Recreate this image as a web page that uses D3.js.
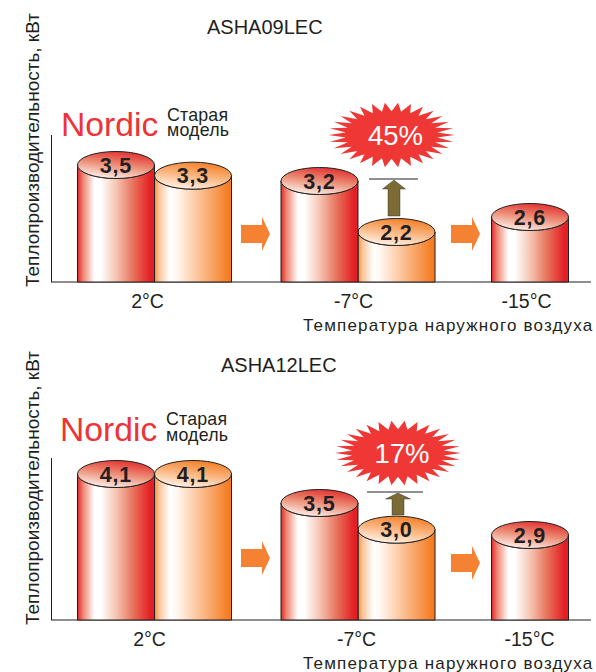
<!DOCTYPE html>
<html lang="ru">
<head>
<meta charset="UTF-8">
<title>ASHA Nordic</title>
<script src="https://d3js.org/d3.v7.min.js"></script>
<style>
    html, body { margin: 0; padding: 0; background: #fff; }
    svg { display: block; font-family: "Liberation Sans", Arial, sans-serif; }
</style>
</head>
<body>
<svg id="chart" width="596" height="672"></svg>
<script>
// data
const temperatures = ["2°C", "-7°C", "-15°C"];
const models = ["ASHA09LEC", "ASHA12LEC"];
const nordicValues = [[3.5, 3.2, 2.6], [4.1, 3.5, 2.9]];
const oldValues = [[3.3, 2.2, null], [4.1, 3.0, null]];
const gains = ["45%", "17%"];
const yTitle = "Теплопроизводительность, кВт";
const xTitle = "Температура наружного воздуха";

const svg = d3.select("#chart");
const defs = svg.append("defs");
const INK = "#231f20";
const BAR_W = 77, RY = 13.5;

// the original's bars are not quite proportional, so the scale is piecewise
const barHeight = d3.scaleLinear()
    .domain([0, 2.2, 2.6, 2.9, 3.5, 4.1])
    .range([0, 50, 65, 85, 117, 146]);
// group centres are unevenly spaced
const groupX = d3.scaleOrdinal().domain(temperatures).range([154.5, 358, 530]);

function addGradients(id, sideStops, topStops) {
    const side = defs.append("linearGradient").attr("id", id + "Side");
    sideStops.forEach(s => side.append("stop").attr("offset", s[0]).attr("stop-color", s[1]));
    const top = defs.append("linearGradient").attr("id", id + "Top")
        .attr("x1", 0.72).attr("y1", 0).attr("x2", 0.35).attr("y2", 1);
    topStops.forEach(s => top.append("stop").attr("offset", s[0]).attr("stop-color", s[1]));
}
addGradients("red",
    [[0, "#e0262a"], [0.07, "#ee8470"], [0.22, "#ffffff"], [0.3, "#ffffff"], [0.5, "#f5c6b4"], [0.72, "#e8735c"], [0.95, "#e31e24"], [1, "#e31e24"]],
    [[0, "#e22a2a"], [0.5, "#ec8d76"], [1, "#fdf0ea"]]);
addGradients("orange",
    [[0, "#f68b3c"], [0.06, "#fbc49a"], [0.2, "#ffffff"], [0.3, "#fff6ee"], [0.55, "#fcc79e"], [0.8, "#f89a54"], [0.97, "#f47b20"], [1, "#f47b20"]],
    [[0, "#f47b20"], [0.5, "#fab57f"], [1, "#fff3e8"]]);

function cylinder(g, cx, base, value, kind) {
    const h = barHeight(value), x0 = cx - BAR_W / 2, x1 = cx + BAR_W / 2, topY = base - h;
    g.append("path")
        .attr("d", `M${x0},${topY}V${base}H${x1}V${topY}A${BAR_W / 2},${RY} 0 0 1 ${x0},${topY}Z`)
        .attr("fill", `url(#${kind}Side)`)
        .attr("stroke", INK).attr("stroke-width", 1);
    g.append("ellipse")
        .attr("cx", cx).attr("cy", topY).attr("rx", BAR_W / 2).attr("ry", RY)
        .attr("fill", `url(#${kind}Top)`)
        .attr("stroke", INK).attr("stroke-width", 1);
    g.append("text")
        .attr("x", cx).attr("y", topY + 7.5)
        .attr("text-anchor", "middle")
        .attr("font-size", 21.5).attr("font-weight", "bold")
        .attr("letter-spacing", 0.8)
        .attr("fill", INK)
        .text(value.toFixed(1).replace(".", ","));
}

function starburst(g, cx, cy) {
    const n = 30, pts = [];
    for (let i = 0; i < n * 2; i++) {
        const a = i * Math.PI / n;
        const k = i % 2 ? 0.73 : 1;
        pts.push([cx + 63 * k * Math.cos(a), cy + 32.5 * k * Math.sin(a)]);
    }
    g.append("path").attr("d", d3.line()(pts) + "Z").attr("fill", "#ef3835");
}

function flowArrow(g, x, y) {
    g.append("path")
        .attr("d", `M${x},${y - 9}H${x + 21}V${y - 17}L${x + 29},${y}L${x + 21},${y + 17}V${y + 9}H${x}Z`)
        .attr("fill", "#f58232");
}

function upArrow(g, cx, top, bottom, halfHead, headH) {
    g.append("path")
        .attr("d", `M${cx - 6},${bottom}V${top + headH}H${cx - halfHead}L${cx},${top}L${cx + halfHead},${top + headH}H${cx + 6}V${bottom}Z`)
        .attr("fill", "#7d6b36").attr("stroke", INK).attr("stroke-width", 0.4);
}

// layout of each of the two panels
const panels = [
    { base: 282, axisTop: 135, titleX: 207, titleY: 33.5, yTitleBottom: 287, xTitleY: 331, tickY: 307.5, tickDx: [-7.5, -5, -4],
      nordicX: 61, nordicY: 136, oldX: 167, oldY: [120.5, 136],
      starX: 391.5, starY: 135, lineY: 179, lineX: [369, 418], arrowX: 394, arrowTop: 180, arrowBottom: 216, halfHead: 11.5, headH: 9,
      flowY: [234, 234], flowX: [241, 451] },
    { base: 620, axisTop: 458, titleX: 221, titleY: 371.7, yTitleBottom: 625, xTitleY: 669, tickY: 646, tickDx: [-5.5, -2, -1],
      nordicX: 60, nordicY: 441, oldX: 166, oldY: [425, 441],
      starX: 398, starY: 453, lineY: 492, lineX: [367, 423], arrowX: 398, arrowTop: 493, arrowBottom: 515, halfHead: 12.5, headH: 6,
      flowY: [558, 563], flowX: [241, 451] }
];

panels.forEach((p, i) => {
    const g = svg.append("g");

    g.append("text").attr("x", p.titleX).attr("y", p.titleY)
        .attr("font-size", 20).attr("fill", INK).text(models[i]);

    g.append("text")
        .attr("transform", `translate(39,${p.yTitleBottom}) rotate(-90)`)
        .attr("font-size", 19).attr("fill", INK)
        .text(yTitle);

    // axes
    g.append("line").attr("x1", 51.5).attr("x2", 51.5).attr("y1", p.axisTop).attr("y2", p.base)
        .attr("stroke", INK).attr("stroke-width", 1);
    g.append("line").attr("x1", 51).attr("x2", 591).attr("y1", p.base).attr("y2", p.base)
        .attr("stroke", INK).attr("stroke-width", 1.2);

    const axis = g.append("g").attr("transform", `translate(0,${p.base})`)
        .call(d3.axisBottom(groupX).tickSize(0));
    axis.select(".domain").remove();
    axis.selectAll("text")
        .attr("font-family", null).attr("font-size", 19.5).attr("fill", INK)
        .attr("y", p.tickY - p.base).attr("dy", null)
        .attr("dx", (d, j) => p.tickDx[j]);

    temperatures.forEach((t, j) => {
        const old = oldValues[i][j];
        if (old === null) {
            cylinder(g, groupX(t), p.base, nordicValues[i][j], "red");
        } else {
            cylinder(g, groupX(t) + BAR_W / 2, p.base, old, "orange");
            cylinder(g, groupX(t) - BAR_W / 2, p.base, nordicValues[i][j], "red");
        }
    });

    p.flowX.forEach((x, j) => flowArrow(g, x, p.flowY[j]));

    g.append("text").attr("x", p.nordicX).attr("y", p.nordicY)
        .attr("font-size", 33.7).attr("fill", "#ee3338").text("Nordic");
    ["Старая", "модель"].forEach((s, j) => {
        g.append("text").attr("x", p.oldX).attr("y", p.oldY[j])
            .attr("font-size", 17.8).attr("letter-spacing", 0.2).attr("fill", INK).text(s);
    });

    starburst(g, p.starX, p.starY);
    g.append("text").attr("x", p.starX + 4).attr("y", p.starY + 10)
        .attr("text-anchor", "middle").attr("font-size", 27.5).attr("fill", "#fff").text(gains[i]);

    g.append("line").attr("x1", p.lineX[0]).attr("x2", p.lineX[1]).attr("y1", p.lineY).attr("y2", p.lineY)
        .attr("stroke", INK).attr("stroke-width", 1);
    upArrow(g, p.arrowX, p.arrowTop, p.arrowBottom, p.halfHead, p.headH);

    g.append("text").attr("x", 303).attr("y", p.xTitleY)
        .attr("font-size", 17).attr("fill", INK).attr("letter-spacing", 1.17)
        .text(xTitle);
});
</script>
</body>
</html>
